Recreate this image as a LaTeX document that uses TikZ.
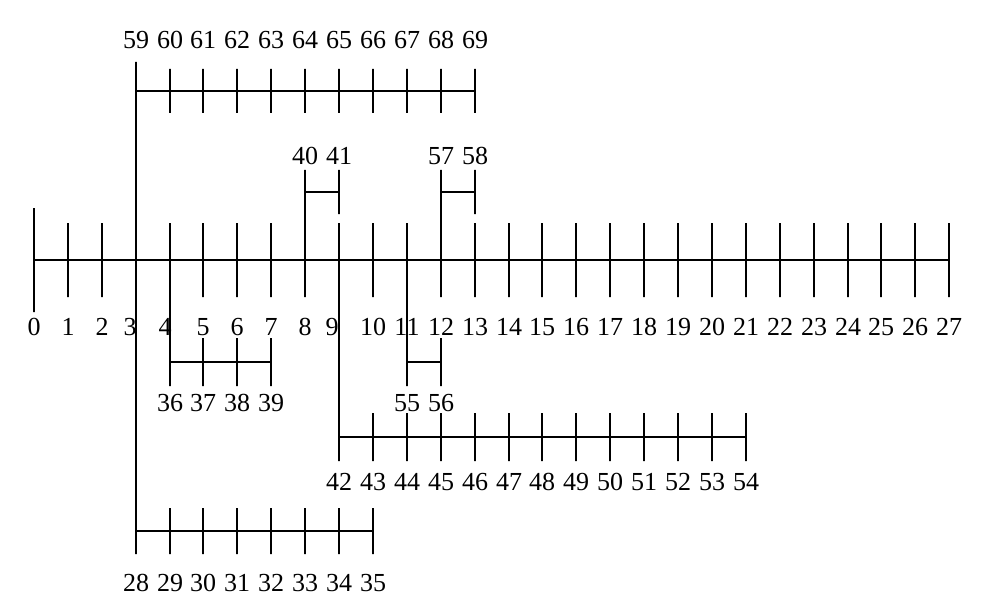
\documentclass[tikz,border=0pt]{standalone}
\usepackage{fontspec}
\setmainfont{Liberation Serif}
\usetikzlibrary{positioning}

\begin{document}
\begin{tikzpicture}[x = 1pt, y = -1pt, on grid, line width = 2pt,
  bus/.style = {draw, inner sep = 0pt, outer sep = 0pt, minimum width = 0pt, minimum height = #1},
  bus/.default = 74pt,
  num/.style = {inner sep = 1pt, font = \fontsize{26}{30}\selectfont}]
	\useasboundingbox (0,0) rectangle (999,607);
	\node[bus = 104pt] (b0) at (34,260) {};
	\foreach \i in {1,...,27}
		\node[bus] (b\i) at ({round(34+33.9*\i)},260) {};
	\node[bus = 58pt] (b59) [above = 169pt of b3] {};
	\foreach \j [count = \k from 60] in {4,...,13}
		\node[bus = 44pt] (b\k) [above = 169pt of b\j] {};
	\node[bus = 44pt] (b40) [above = 68pt of b8] {};
	\node[bus = 44pt] (b41) [above = 68pt of b9] {};
	\node[bus = 44pt] (b57) [above = 68pt of b12] {};
	\node[bus = 44pt] (b58) [above = 68pt of b13] {};
	\foreach \j [count = \k from 36] in {4,...,7}
		\node[bus = 48pt] (b\k) [below = 102pt of b\j] {};
	\node[bus = 48pt] (b55) [below = 102pt of b11] {};
	\node[bus = 48pt] (b56) [below = 102pt of b12] {};
	\foreach \j [count = \k from 42] in {9,...,21}
		\node[bus = 48pt] (b\k) [below = 177pt of b\j] {};
	\foreach \j [count = \k from 28] in {3,...,10}
		\node[bus = 46pt] (b\k) [below = 271pt of b\j] {};
	\draw (b0) -- (b27);
	\draw (b59) -- (b69);
	\draw (b59) -- (b28);
	\draw (b40) -- (b8);
	\draw (b40) -- (b41);
	\draw (b57) -- (b12);
	\draw (b57) -- (b58);
	\draw (b4) -- (b36);
	\draw (b36) -- (b39);
	\draw (b11) -- (b55);
	\draw (b55) -- (b56);
	\draw (b9) -- (b42);
	\draw (b42) -- (b54);
	\draw (b28) -- (b35);
	\foreach \i in {0,1,2,5,6,7,8,10,11,...,27}
		\node[num, below = 67pt of b\i] (l\i) {\i};
	\foreach \i/\s in {3/-6pt,4/-5pt,9/-7pt}
		\node[num, below = 67pt of b\i, xshift = \s] (l\i) {\i};
	\foreach \i in {59,...,69}
		\node[num, above = 51pt of b\i] (l\i) {\i};
	\foreach \i in {40,41,57,58}
		\node[num, above = 36pt of b\i] (l\i) {\i};
	\foreach \i in {36,...,39,55,56}
		\node[num, below = 41pt of b\i] (l\i) {\i};
	\foreach \i in {42,...,54}
		\node[num, below = 45pt of b\i] (l\i) {\i};
	\foreach \i in {28,...,35}
		\node[num, below = 52pt of b\i] (l\i) {\i};
\end{tikzpicture}
\end{document}
